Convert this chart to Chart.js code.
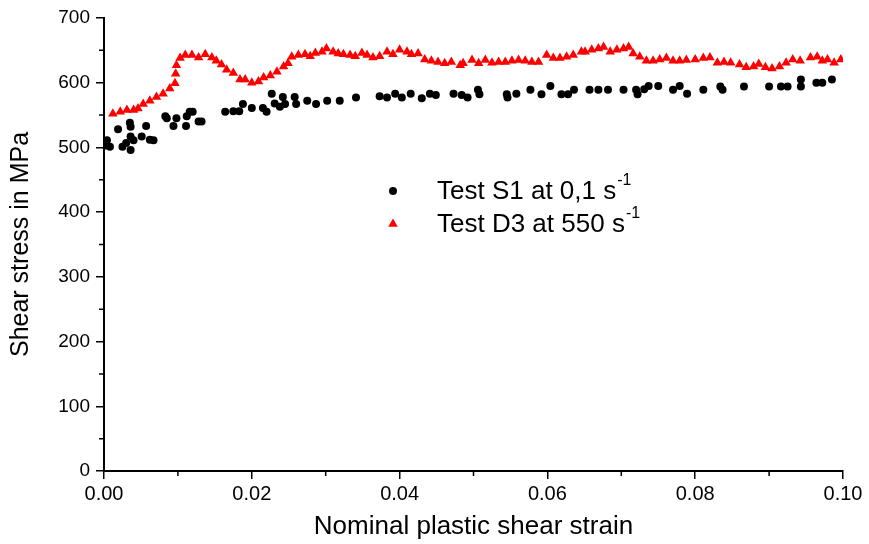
<!DOCTYPE html>
<html>
<head>
<meta charset="utf-8">
<script src="https://cdn.jsdelivr.net/npm/chart.js@4.4.0/dist/chart.umd.min.js"></script>
<style>
  html, body { margin: 0; padding: 0; background: #fff; }
</style>
</head>
<body>
<canvas id="chart" width="869" height="544"></canvas>
<script>
// Test S1 at 0,1 s^-1 : [strain, stress MPa]
const s1Points = [
  [0.0002,503],[0.0004,511],[0.0008,501],[0.0019,528],[0.0025,501],[0.0030,507],
  [0.0035,538],[0.0036,532],[0.0036,517],[0.0036,496],[0.0040,511],[0.0051,517],
  [0.0057,533],[0.0062,512],[0.0067,511],[0.0083,548],[0.0085,545],[0.0094,533],
  [0.0098,545],[0.0111,533],[0.0112,548],[0.0116,555],[0.0120,555],[0.0128,540],
  [0.0132,540],[0.0164,555],[0.0175,556],[0.0183,556],[0.0188,567],[0.0200,561],
  [0.0215,561],[0.0220,555],[0.0227,583],[0.0231,568],[0.0238,563],[0.0242,578],
  [0.0245,567],[0.0258,578],[0.0260,567],[0.0275,572],[0.0287,567],[0.0302,572],
  [0.0319,572],[0.0341,577],[0.0373,579],[0.0383,577],[0.0394,583],[0.0403,577],
  [0.0415,583],[0.0430,576],[0.0441,583],[0.0449,581],[0.0473,583],[0.0484,581],
  [0.0492,577],[0.0506,589],[0.0508,582],[0.0545,582],[0.0546,577],[0.0558,583],
  [0.0577,589],[0.0592,582],[0.0604,595],[0.0619,582],[0.0628,582],[0.0636,589],
  [0.0657,589],[0.0669,589],[0.0682,589],[0.0703,589],[0.0720,589],[0.0722,582],
  [0.0731,590],[0.0737,595],[0.0750,595],[0.0770,589],[0.0779,595],[0.0789,583],
  [0.0811,589],[0.0834,594],[0.0837,589],[0.0866,594],[0.0900,594],[0.0916,594],
  [0.0925,594],[0.0943,605],[0.0943,594],[0.0964,600],[0.0972,600],[0.0985,605]
];

// Test D3 at 550 s^-1 : [strain, stress MPa]
const d3Points = [
  [0.0012,552],[0.0022,555],[0.0031,558],[0.0040,558],[0.0046,560],[0.0053,567],
  [0.0062,572],[0.0071,578],[0.0080,583],[0.0089,591],[0.0096,599],[0.0097,614],
  [0.0098,627],[0.0103,638],[0.0110,643],[0.0119,643],[0.0128,639],[0.0137,644],
  [0.0146,639],[0.0152,634],[0.0159,628],[0.0166,620],[0.0175,615],[0.0184,605],
  [0.0191,605],[0.0200,600],[0.0209,602],[0.0216,608],[0.0225,611],[0.0234,617],
  [0.0243,625],[0.0249,630],[0.0254,640],[0.0263,643],[0.0272,644],[0.0279,641],
  [0.0286,646],[0.0295,648],[0.0301,653],[0.0310,648],[0.0317,645],[0.0324,644],
  [0.0333,643],[0.0340,641],[0.0349,646],[0.0356,643],[0.0364,639],[0.0373,641],
  [0.0383,648],[0.0391,644],[0.0400,651],[0.0410,648],[0.0416,644],[0.0425,645],
  [0.0434,636],[0.0443,634],[0.0452,632],[0.0461,630],[0.0470,632],[0.0482,627],
  [0.0486,630],[0.0498,635],[0.0507,630],[0.0516,635],[0.0525,631],[0.0534,632],
  [0.0543,632],[0.0552,634],[0.0561,635],[0.0570,634],[0.0579,632],[0.0588,632],
  [0.0599,643],[0.0608,638],[0.0617,638],[0.0626,640],[0.0635,643],[0.0646,648],
  [0.0651,648],[0.0660,651],[0.0669,653],[0.0676,655],[0.0685,648],[0.0694,651],
  [0.0703,653],[0.0710,655],[0.0716,645],[0.0725,640],[0.0734,634],[0.0743,634],
  [0.0752,636],[0.0761,638],[0.0770,634],[0.0779,634],[0.0788,635],[0.0800,636],
  [0.0811,638],[0.0820,639],[0.0830,631],[0.0839,632],[0.0848,631],[0.0860,628],
  [0.0869,624],[0.0879,625],[0.0886,629],[0.0895,624],[0.0904,622],[0.0914,625],
  [0.0923,631],[0.0932,636],[0.0942,634],[0.0956,639],[0.0965,640],[0.0972,634],
  [0.0979,636],[0.0988,631],[0.0997,636]
];

const seriesNames = ['Test S1 at 0,1 s', 'Test D3 at 550 s'];
const seriesSup = ['-1', '-1'];

const xTicks = [0, 0.02, 0.04, 0.06, 0.08, 0.10];
const xMinorTicks = [0.01, 0.03, 0.05, 0.07, 0.09];
const yTicks = [0, 100, 200, 300, 400, 500, 600, 700];
const yMinorTicks = [50, 150, 250, 350, 450, 550, 650];

const FONT = 'Arial, "Liberation Sans", sans-serif';

// minor ticks + legend with superscripts
const extrasPlugin = {
    id: 'extras',
    afterDraw(chart) {
        const ctx = chart.ctx;
        const xs = chart.scales.x;
        const ys = chart.scales.y;
        const area = chart.chartArea;
        ctx.save();
        ctx.strokeStyle = '#000';
        ctx.lineWidth = 1.5;
        ctx.beginPath();
        xMinorTicks.forEach(v => {
            const px = xs.getPixelForValue(v);
            ctx.moveTo(px, area.bottom);
            ctx.lineTo(px, area.bottom + 5);
        });
        yMinorTicks.forEach(v => {
            const py = ys.getPixelForValue(v);
            ctx.moveTo(area.left - 5, py);
            ctx.lineTo(area.left, py);
        });
        ctx.stroke();

        // legend
        chart.data.datasets.forEach((ds, i) => {
            const mx = area.left + 289;
            const my = area.top + 173 + i * 33;
            ctx.fillStyle = ds.backgroundColor;
            ctx.strokeStyle = ds.borderColor;
            Chart.helpers.drawPoint(ctx, {
                pointStyle: ds.pointStyle,
                radius: ds.pointRadius,
                borderWidth: 0,
                rotation: 0
            }, mx, my);
            ctx.fillStyle = '#000';
            ctx.textBaseline = 'middle';
            ctx.font = '26px ' + FONT;
            const tx = area.left + 333;
            ctx.fillText(seriesNames[i], tx, my + 1);
            const w = ctx.measureText(seriesNames[i]).width;
            ctx.font = '16px ' + FONT;
            ctx.fillText(seriesSup[i], tx + w + 1, my - 10);
        });
        ctx.restore();
    }
};

new Chart(document.getElementById('chart').getContext('2d'), {
    type: 'scatter',
    data: {
        datasets: [
            {
                label: seriesNames[0],
                data: s1Points.map(p => ({ x: p[0], y: p[1] })),
                pointStyle: 'circle',
                pointRadius: 4,
                borderWidth: 0,
                backgroundColor: '#000000',
                borderColor: '#000000'
            },
            {
                label: seriesNames[1],
                data: d3Points.map(p => ({ x: p[0], y: p[1] })),
                pointStyle: 'triangle',
                pointRadius: 5.5,
                borderWidth: 0,
                backgroundColor: '#ff0000',
                borderColor: '#ff0000'
            }
        ]
    },
    options: {
        responsive: false,
        animation: false,
        layout: { padding: { left: 0, top: 18, right: 26, bottom: 0 } },
        plugins: {
            legend: { display: false },
            tooltip: { enabled: false }
        },
        scales: {
            x: {
                type: 'linear',
                min: 0,
                max: 0.1,
                afterBuildTicks: scale => { scale.ticks = xTicks.map(v => ({ value: v })); },
                afterFit: scale => { scale.height = 73; },
                ticks: {
                    color: '#000',
                    font: { family: FONT, size: 20 },
                    padding: 3,
                    maxRotation: 0,
                    callback: v => v.toFixed(2)
                },
                grid: {
                    drawOnChartArea: false,
                    drawTicks: true,
                    tickLength: 8,
                    color: '#000',
                    lineWidth: 1.5
                },
                border: { color: '#000', width: 2 },
                title: {
                    display: true,
                    text: 'Nominal plastic shear strain',
                    color: '#000',
                    font: { family: FONT, size: 26 },
                    padding: { top: 0, bottom: 2 }
                }
            },
            y: {
                type: 'linear',
                min: 0,
                max: 700,
                afterBuildTicks: scale => { scale.ticks = yTicks.map(v => ({ value: v })); },
                afterFit: scale => { scale.width = 104; },
                ticks: {
                    color: '#000',
                    font: { family: FONT, size: 19 },
                    padding: 6
                },
                grid: {
                    drawOnChartArea: false,
                    drawTicks: true,
                    tickLength: 8,
                    color: '#000',
                    lineWidth: 1.5
                },
                border: { color: '#000', width: 2 },
                title: {
                    display: true,
                    text: 'Shear stress in MPa',
                    color: '#000',
                    font: { family: FONT, size: 25 },
                    padding: { top: 6, bottom: 0 }
                }
            }
        }
    },
    plugins: [extrasPlugin]
});
</script>
</body>
</html>
